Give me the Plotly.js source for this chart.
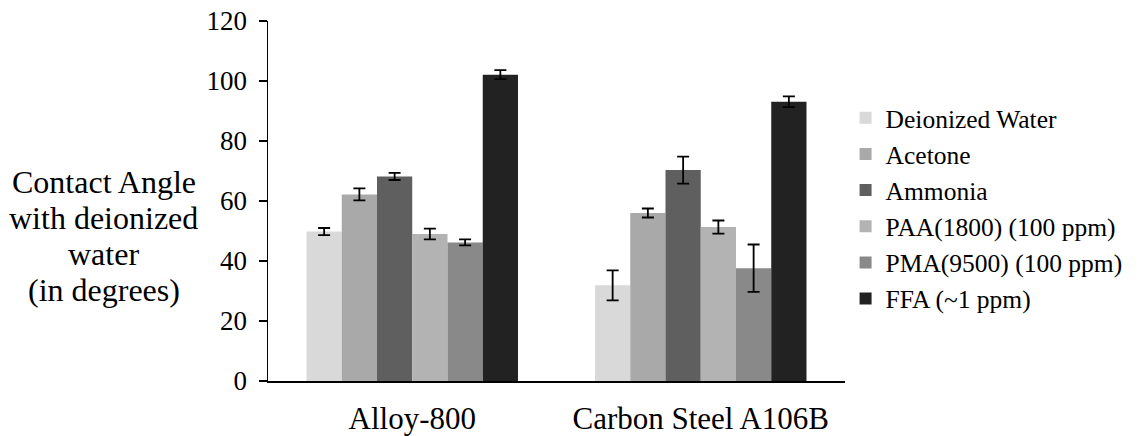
<!DOCTYPE html>
<html>
<head>
<meta charset="utf-8">
<script src="https://cdn.plot.ly/plotly-3.0.1.min.js"></script>
<style>html,body{margin:0;padding:0;background:#fff;}#chart{width:1139px;height:436px;}</style>
</head>
<body>
<div id="chart"></div>
<script>
const categories = ["Alloy-800", "Carbon Steel A106B"];
const seriesNames = ["Deionized Water", "Acetone", "Ammonia", "PAA(1800) (100 ppm)", "PMA(9500) (100 ppm)", "FFA (~1 ppm)"];
const deionizedWater = [49.8, 31.9];
const acetone = [62.2, 56.0];
const ammonia = [68.2, 70.3];
const paa = [49.0, 51.3];
const pma = [46.2, 37.6];
const ffa = [102.1, 93.1];
const errDeionizedWater = [1.2, 5.0];
const errAcetone = [2.0, 1.5];
const errAmmonia = [1.2, 4.5];
const errPaa = [1.8, 2.2];
const errPma = [1.0, 7.9];
const errFfa = [1.5, 1.8];
const yTickVals = [0, 20, 40, 60, 80, 100, 120];
const yTitleLines = ["Contact Angle", "with deionized", "water", "(in degrees)"];

const values = [deionizedWater, acetone, ammonia, paa, pma, ffa];
const errors = [errDeionizedWater, errAcetone, errAmmonia, errPaa, errPma, errFfa];
const colors = ["#d9d9d9", "#a9a9a9", "#5f5f5f", "#b3b3b3", "#898989", "#222222"];

const font = "Liberation Serif";

const traces = seriesNames.map((name, i) => ({
  type: "bar",
  name: name,
  x: categories,
  y: values[i],
  marker: {color: colors[i], line: {width: 0}},
  error_y: {type: "data", array: errors[i], visible: true, color: "#000", thickness: 1.8, width: 6}
}));

// multi-line horizontal y-axis title, one annotation per line (line centres in px)
const titleCentersPx = [182, 218, 254, 290];
const titleAnnotations = yTitleLines.map((line, i) => ({
  xref: "paper", yref: "paper", x: (104 - 268) / 576, y: (381 - titleCentersPx[i]) / 360,
  xanchor: "center", yanchor: "middle", showarrow: false, align: "center",
  text: line,
  font: {family: font, size: 32, color: "#000"}
}));

const layout = {
  width: 1139, height: 436,
  margin: {l: 268, r: 294, t: 21, b: 55, pad: 0, autoexpand: false},
  paper_bgcolor: "#fff", plot_bgcolor: "#fff",
  barmode: "group", bargap: 0.267, bargroupgap: 0,
  font: {family: font, color: "#000", size: 26},
  showlegend: true,
  legend: {x: 1.001, xanchor: "left", y: 0.48, yanchor: "middle",
           font: {family: font, size: 25.5, color: "#000"}, bgcolor: "rgba(0,0,0,0)", traceorder: "normal"},
  xaxis: {showline: true, linecolor: "#000", linewidth: 1.5, ticks: "", showgrid: false,
          tickfont: {family: font, size: 31, color: "#000"}, zeroline: false, ticklabelstandoff: 9},
  yaxis: {range: [0, 120], tickvals: yTickVals, showline: true, linecolor: "#000", linewidth: 1.5,
          ticks: "outside", ticklen: 8, tickwidth: 1.5, tickcolor: "#000", showgrid: false, zeroline: false,
          tickfont: {family: font, size: 27, color: "#000"}, ticklabelstandoff: 6},
  annotations: titleAnnotations
};

Plotly.newPlot("chart", traces, layout, {displayModeBar: false, staticPlot: true});
</script>
</body>
</html>
